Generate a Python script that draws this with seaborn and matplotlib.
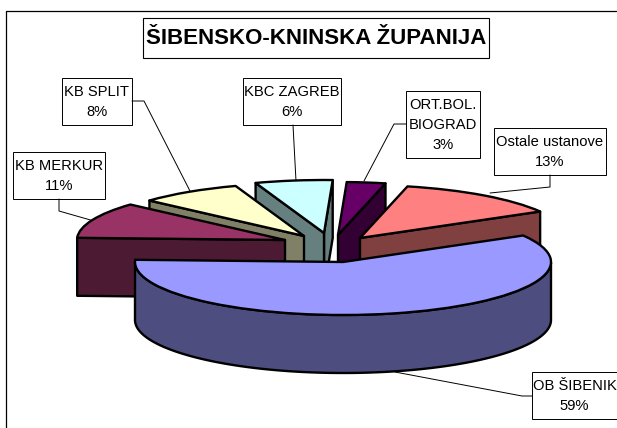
import numpy as np
import matplotlib
matplotlib.use("Agg")
import matplotlib.pyplot as plt
from matplotlib.patches import Rectangle
import seaborn as sns

# slices in pie order, going counter-clockwise from the right
categories = ["Ostale ustanove", "ORT.BOL.\nBIOGRAD", "KBC ZAGREB", "KB SPLIT", "KB MERKUR", "OB ŠIBENIK"]
values = [13, 3, 6, 8, 11, 59]
title = "ŠIBENSKO-KNINSKA ŽUPANIJA"

top_colors = ["#FF8080", "#660066", "#CCFFFF", "#FFFFCC", "#993366", "#9999FF"]
side_colors = ["#804040", "#330033", "#668080", "#808066", "#4D1A33", "#4D4D80"]

W, H = 617, 428
RX, RY = 208, 53   # ellipse radii in pixels
DEPTH = 58
SQUASH = RY / RX

# apex of each exploded slice, in pixels
apexes = [(360, 238), (338, 235), (324, 233), (304, 236), (285, 240), (343, 262)]
# back to front
draw_order = [1, 0, 2, 3, 4, 5]
# label boxes: x0, y0, x1, y1 in pixels
boxes = [(494, 128, 606, 175), (406, 91, 480, 158), (243, 78, 341, 125),
         (62, 78, 132, 125), (13, 152, 105, 199), (532, 372, 630, 419)]
text_centers = [(550, 152), (443, 125), (292, 102), (97, 102), (59, 176), (574.5, 396)]
connectors = [
    [(550, 175), (550, 187), (490, 193)],
    [(406, 124), (394, 124), (364, 181)],
    [(293, 125), (296, 181)],
    [(132, 101), (144, 101), (190, 191)],
    [(59, 199), (59, 211), (94, 221)],
    [(532, 396), (522, 396), (395, 372)],
]

sns.set_theme(style="white")
plt.rcParams["font.family"] = ["Liberation Sans", "DejaVu Sans"]

fig = plt.figure(figsize=(W / 100, H / 100), dpi=100, facecolor="white")

# overlay in plain pixel coordinates for frame, boxes and leader lines
ax_px = fig.add_axes([0, 0, 1, 1], zorder=1)
ax_px.set_xlim(0, W)
ax_px.set_ylim(H, 0)
ax_px.axis("off")
ax_px.plot([5.5, 5.5, W + 2], [H + 2, 10.5, 10.5], color="black", lw=0.9)

for seg in connectors:
    ax_px.plot([p[0] for p in seg], [p[1] for p in seg], color="black", lw=0.7)

for (x0, y0, x1, y1), (tx, ty), cat, val in zip(boxes, text_centers, categories, values):
    ax_px.add_patch(Rectangle((x0, y0), x1 - x0, y1 - y0, fc="white", ec="black", lw=0.7))
    ax_px.text(tx, ty, f"{cat}\n{val}%", ha="center", va="center", fontsize=10.6,
               linespacing=1.55, color="black")

ax_px.add_patch(Rectangle((143, 18), 346, 40, fc="white", ec="black", lw=0.8))
ax_px.text(316, 38.5, title, ha="center", va="center", fontsize=16, fontweight="bold", color="black")

# pie axes: y is stretched so that the circles of ax.pie come out as ellipses
ax = fig.add_axes([0, 0, 1, 1], zorder=2)
ax.patch.set_alpha(0)
wedges, _ = ax.pie(values, radius=RX, startangle=30, colors=top_colors,
                   wedgeprops={"edgecolor": "black", "linewidth": 1.7, "joinstyle": "round"})
ax.set_aspect("auto")
ax.set_xlim(0, W)
ax.set_ylim(-(H - 262) / SQUASH, 262 / SQUASH)
ax.axis("off")

depth_d = DEPTH / SQUASH
edge_kw = {"edgecolor": "black", "linewidth": 1.7, "joinstyle": "round"}

for z, i in enumerate(draw_order):
    w = wedges[i]
    cx = apexes[i][0]
    cy = (262 - apexes[i][1]) / SQUASH
    w.set_center((cx, cy))
    w.set_zorder(10 + 2 * z + 1)

    # the cut faces that look towards the viewer
    for th, show in [(w.theta1, np.cos(np.radians(w.theta1)) > 0),
                     (w.theta2, np.cos(np.radians(w.theta2)) < 0)]:
        if show:
            ex = cx + RX * np.cos(np.radians(th))
            ey = cy + RX * np.sin(np.radians(th))
            ax.fill([cx, ex, ex, cx], [cy, ey, ey - depth_d, cy - depth_d],
                    facecolor=side_colors[i], zorder=10 + 2 * z, **edge_kw)

    # outer rim, only the part on the near side of the ellipse
    t = np.radians(np.linspace(w.theta1, w.theta2, 300))
    t = t[np.sin(t) <= 0]
    if len(t):
        xs = cx + RX * np.cos(t)
        ys = cy + RX * np.sin(t)
        ax.fill(np.r_[xs, xs[::-1]], np.r_[ys, ys[::-1] - depth_d],
                facecolor=side_colors[i], zorder=10 + 2 * z, **edge_kw)

fig.savefig("out.png", dpi=100)
